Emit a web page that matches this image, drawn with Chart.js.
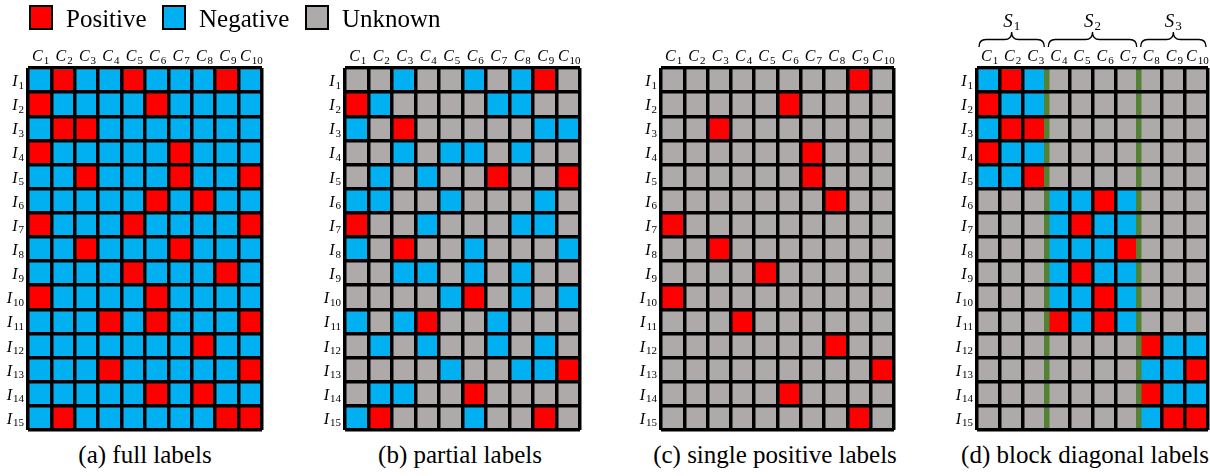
<!DOCTYPE html>
<html>
<head>
<meta charset="utf-8">
<title>Label settings</title>
<script src="https://cdn.jsdelivr.net/npm/chart.js"></script>
<style>
  body { margin: 0; width: 1210px; height: 476px; background: #fff; position: relative; overflow: hidden; font-family: "Liberation Serif", serif; color: #000; }
  canvas { position: absolute; top: 0; }
  .box { position: absolute; top: 5px; width: 24px; height: 25px; border: 2px solid #000; box-sizing: border-box; z-index: 2; }
  .txt { position: absolute; top: 6px; font-size: 25px; line-height: 25px; white-space: nowrap; z-index: 2; }
  .cap { position: absolute; top: 442px; width: 320px; font-size: 25px; line-height: 25px; text-align: center; white-space: nowrap; }
</style>
</head>
<body>
<div class="box" style="left:29px;background:#ff0000"></div><span class="txt" style="left:66px">Positive</span>
<div class="box" style="left:162px;background:#00b0f0"></div><span class="txt" style="left:199px">Negative</span>
<div class="box" style="left:305px;background:#aeaaaa"></div><span class="txt" style="left:342px">Unknown</span>

<canvas id="cA"></canvas>
<canvas id="cB"></canvas>
<canvas id="cC"></canvas>
<canvas id="cD"></canvas>

<div class="cap" style="left:-15px">(a) full labels</div>
<div class="cap" style="left:300px">(b) partial labels</div>
<div class="cap" style="left:615px">(c) single positive labels</div>
<div class="cap" style="left:925px">(d) block diagonal labels</div>

<script>
// P = positive, N = negative, U = unknown ; one string per row I1..I15, one letter per column C1..C10
const columns = ['C1', 'C2', 'C3', 'C4', 'C5', 'C6', 'C7', 'C8', 'C9', 'C10'];
const rows = ['I1', 'I2', 'I3', 'I4', 'I5', 'I6', 'I7', 'I8', 'I9', 'I10', 'I11', 'I12', 'I13', 'I14', 'I15'];

const fullLabels = [
  'NPNNPNNNPN', 'PNNNNPNNNN', 'NPPNNNNNNN', 'PNNNNNPNNN', 'NNPNNNPNNP',
  'NNNNNPNPNN', 'PNNNPNNNNP', 'NNPNNNPNNN', 'NNNNPNNNPN', 'PNNNNPNNNN',
  'NNNPNPNNNP', 'NNNNNNNPNN', 'NNNPNNNNNP', 'NNNNNPNPNN', 'NPNNNNNNPP'
];
const partialLabels = [
  'UUNUUNUNPU', 'PNUUUUNNUU', 'NUPUUUUUNN', 'UUNUNNUNUU', 'UNUNUUPUUP',
  'NNUUNUUUNU', 'PUUNUUUNNU', 'NUPUUNUUUN', 'UUNNUNUNUU', 'UUUUNPUNUN',
  'NUNPUUNUUU', 'UNUNUUNUNU', 'UUUUNUUNNP', 'UNNUUPUUUU', 'NPUUUNUUPU'
];
const singleLabels = [
  'UUUUUUUUPU', 'UUUUUPUUUU', 'UUPUUUUUUU', 'UUUUUUPUUU', 'UUUUUUPUUU',
  'UUUUUUUPUU', 'PUUUUUUUUU', 'UUPUUUUUUU', 'UUUUPUUUUU', 'PUUUUUUUUU',
  'UUUPUUUUUU', 'UUUUUUUPUU', 'UUUUUUUUUP', 'UUUUUPUUUU', 'UUUUUUUUPU'
];
const blockLabels = [
  'NPNUUUUUUU', 'PNNUUUUUUU', 'NPPUUUUUUU', 'PNNUUUUUUU', 'NNPUUUUUUU',
  'UUUNNPNUUU', 'UUUNPNNUUU', 'UUUNNNPUUU', 'UUUNPNNUUU', 'UUUNNPNUUU',
  'UUUPNPNUUU', 'UUUUUUUPNN', 'UUUUUUUNNP', 'UUUUUUUPNN', 'UUUUUUUNPP'
];
const groups = ['S1', 'S2', 'S3'];
const groupCols = [[0, 2], [3, 6], [7, 9]];

const colors = { P: '#ff0000', N: '#00b0f0', U: '#aeaaaa' };

// letter in italic, index as a lowered smaller number
function subText(ctx, label, x, y, size, align) {
  const letter = label[0], sub = label.slice(1);
  const fL = 'italic ' + size + 'px "Liberation Serif"';
  const fS = Math.round(size * 0.66) + 'px "Liberation Serif"';
  ctx.font = fL; const wL = ctx.measureText(letter).width;
  ctx.font = fS; const wS = ctx.measureText(sub).width;
  let x0 = align === 'right' ? x - wL - wS - 1 : x - (wL + wS + 1) / 2;
  ctx.textAlign = 'left';
  ctx.textBaseline = 'alphabetic';
  ctx.font = fL; ctx.fillText(letter, x0, y);
  ctx.font = fS; ctx.fillText(sub, x0 + wL + 1, y + size * 0.16);
}

const subLabels = {
  id: 'subLabels',
  afterDraw(chart) {
    const ctx = chart.ctx, xs = chart.scales.x, ys = chart.scales.yl, area = chart.chartArea;
    ctx.save();
    ctx.fillStyle = '#000';
    columns.forEach((c, i) => subText(ctx, c, xs.getPixelForValue(i) + 1, area.top - 7, 16, 'center'));
    rows.forEach((r, i) => subText(ctx, r, area.left - 4, ys.getPixelForValue(i) + 6, 16, 'right'));
    ctx.restore();
  }
};

const braces = {
  id: 'braces',
  afterDraw(chart) {
    const ctx = chart.ctx, xs = chart.scales.x;
    const half = (xs.getPixelForValue(1) - xs.getPixelForValue(0)) / 2;
    ctx.save();
    ctx.strokeStyle = '#000';
    ctx.fillStyle = '#000';
    ctx.lineWidth = 1.3;
    groupCols.forEach(([a, b], i) => {
      const x0 = xs.getPixelForValue(a) - half + 2, x1 = xs.getPixelForValue(b) + half - 2;
      const m = (x0 + x1) / 2, yt = 32, yb = 47, ym = 39.5, r = 7;
      ctx.beginPath();
      ctx.moveTo(x0, yb);
      ctx.quadraticCurveTo(x0, ym, x0 + r, ym);
      ctx.lineTo(m - r, ym);
      ctx.quadraticCurveTo(m, ym, m, yt);
      ctx.quadraticCurveTo(m, ym, m + r, ym);
      ctx.lineTo(x1 - r, ym);
      ctx.quadraticCurveTo(x1, ym, x1, yb);
      ctx.stroke();
      subText(ctx, groups[i], m, 27, 19, 'center');
    });
    ctx.restore();
  }
};

function makeChart(id, grid, left, width, block) {
  const canvas = document.getElementById(id);
  canvas.width = width + 33;
  canvas.height = 433;
  canvas.style.left = (left - 30) + 'px';
  const isSep = c => block && (c.index === 3 || c.index === 7);
  new Chart(canvas, {
    type: 'bar',
    data: {
      labels: columns,
      datasets: grid.map((row, r) => ({
        label: rows[r],
        data: columns.map(() => 1),
        backgroundColor: row.split('').map(c => colors[c]),
        borderWidth: 0,
        barPercentage: 1,
        categoryPercentage: 1
      }))
    },
    options: {
      responsive: false,
      animation: false,
      events: [],
      layout: { padding: { top: 0, left: 0, right: 3, bottom: 3 } },
      plugins: { legend: { display: false }, tooltip: { enabled: false } },
      scales: {
        x: {
          position: 'top', stacked: true, offset: true,
          grid: {
            z: 1, offset: true, drawTicks: false,
            color: c => isSep(c) ? '#548235' : '#000',
            lineWidth: c => isSep(c) ? 5.5 : 3.5
          },
          border: { display: false },
          ticks: { display: false },
          afterFit: s => { s.height = 68; }
        },
        y: {
          type: 'linear', position: 'right', stacked: true, reverse: true, min: 0, max: 15,
          ticks: { display: false, stepSize: 1 },
          grid: { z: 2, color: '#000', lineWidth: 3.5, drawTicks: false },
          border: { display: false },
          afterFit: s => { s.width = 0; }
        },
        yl: {
          type: 'category', labels: rows, position: 'left', offset: true,
          grid: { display: false }, border: { display: false },
          ticks: { display: false },
          afterFit: s => { s.width = 30; }
        }
      }
    },
    plugins: block ? [subLabels, braces] : [subLabels]
  });
}

makeChart('cA', fullLabels, 28, 234, false);
makeChart('cB', partialLabels, 345, 235, false);
makeChart('cC', singleLabels, 661, 233, false);
makeChart('cD', blockLabels, 977, 231, true);
</script>
</body>
</html>
